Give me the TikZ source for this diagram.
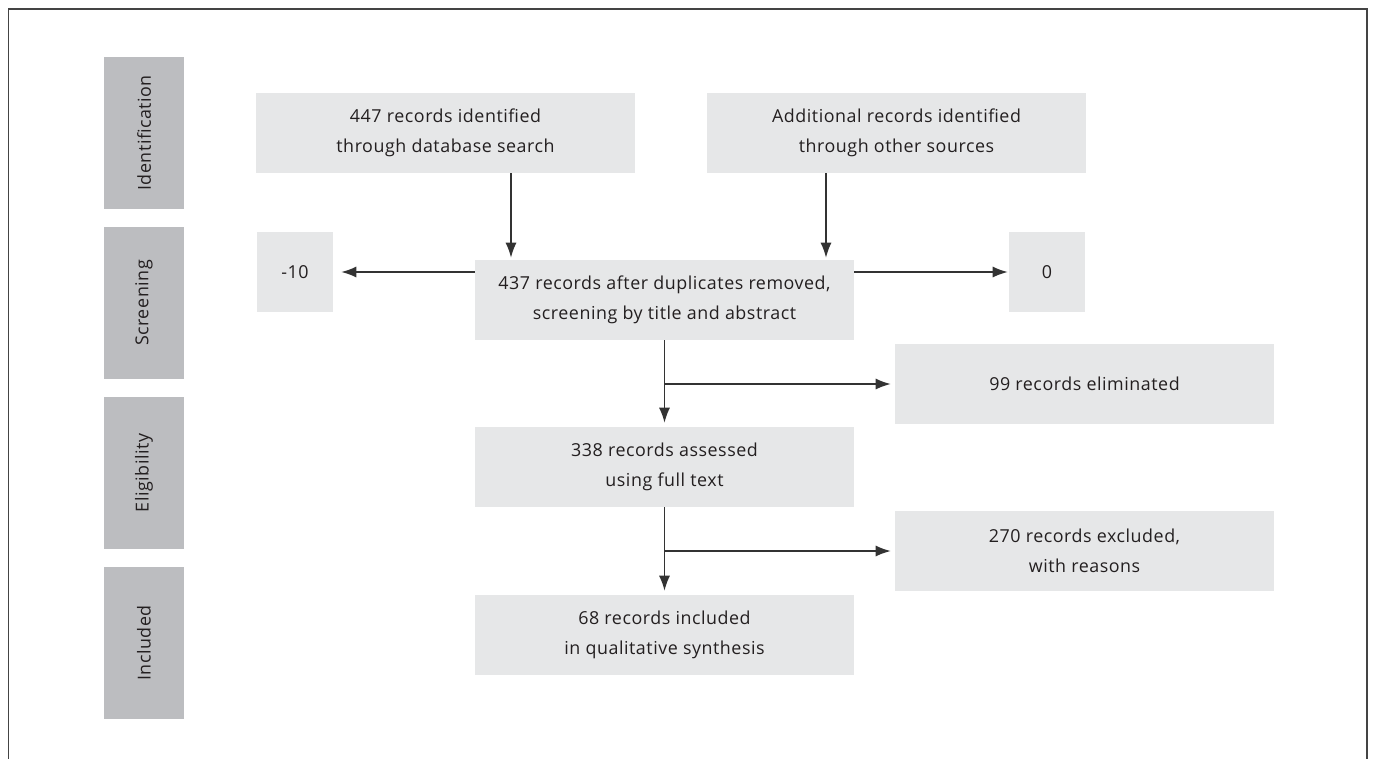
\documentclass[tikz,border=0pt]{standalone}
\usepackage{fontspec}
\setmainfont[LetterSpace=3]{Open Sans}
\usetikzlibrary{arrows.meta}
\definecolor{boxgray}{HTML}{E6E7E8}
\definecolor{sidegray}{HTML}{BCBDC0}
\definecolor{txt}{HTML}{231F20}
\definecolor{linec}{HTML}{333333}
\definecolor{framec}{HTML}{444444}
\newcommand{\boxfont}{\fontsize{13.4pt}{22.5pt}\selectfont}
\begin{document}
\begin{tikzpicture}[x=0.75pt,y=-0.75pt,
  box/.style={fill=boxgray, minimum width=284.25pt, minimum height=60pt, align=center, inner sep=0pt, text=txt, font=\boxfont},
  smallbox/.style={fill=boxgray, minimum width=57pt, minimum height=60pt, align=center, inner sep=0pt, text=txt, font=\boxfont},
  sidebox/.style={fill=sidegray, minimum width=114pt, minimum height=60pt, inner sep=0pt, rotate=90, text=txt, font=\boxfont},
  arr/.style={draw=linec, line width=1.1pt, -{Latex[length=11.25pt,width=8.25pt]}},
  frame/.style={draw=framec, line width=1.1pt}]
\useasboundingbox (0,0) rectangle (1373,758);
\draw[frame] (8.5,760) -- (8.5,9) -- (1367,9) -- (1367,760);

% side labels
\node[sidebox] (sid) at (144,133) {Identification};
\node[sidebox] (sscr) at (144,303) {Screening};
\node[sidebox] (selg) at (144,473) {Eligibility};
\node[sidebox] (sinc) at (144,643) {Included};

% boxes
\node[box] (A) at (445.5,133) {447 records identified\\through database search};
\node[box] (B) at (896.5,133) {Additional records identified\\through other sources};
\node[smallbox] (M) at (295,272) {-10};
\node[box] (C) at (664.5,300) {437 records after duplicates removed,\\screening by title and abstract};
\node[smallbox] (Z) at (1047,272) {0};
\node[box] (E1) at (1084.5,384) {99 records eliminated};
\node[box] (D) at (664.5,467) {338 records assessed\\using full text};
\node[box] (E2) at (1084.5,551) {270 records excluded,\\with reasons};
\node[box] (E) at (664.5,635) {68 records included\\in qualitative synthesis};

% connector anchors
\coordinate (ax) at (511,0);
\coordinate (bx) at (826,0);

\draw[arr] (A.south -| ax) -- ([yshift=1.5pt]C.north -| ax);
\draw[arr] (B.south -| bx) -- ([yshift=1.5pt]C.north -| bx);
\draw[arr, shorten >=6pt] (C.west |- M.east) -- (M.east);
\draw[arr, shorten >=0.75pt] (C.east |- Z.west) -- (Z.west);
\draw[arr, shorten >=3pt] (C.south) -- (D.north);
\draw[arr, shorten >=3pt] (C.south |- E1.west) -- (E1.west);
\draw[arr, shorten >=3pt] (D.south) -- (E.north);
\draw[arr, shorten >=3pt] (D.south |- E2.west) -- (E2.west);
\end{tikzpicture}
\end{document}
